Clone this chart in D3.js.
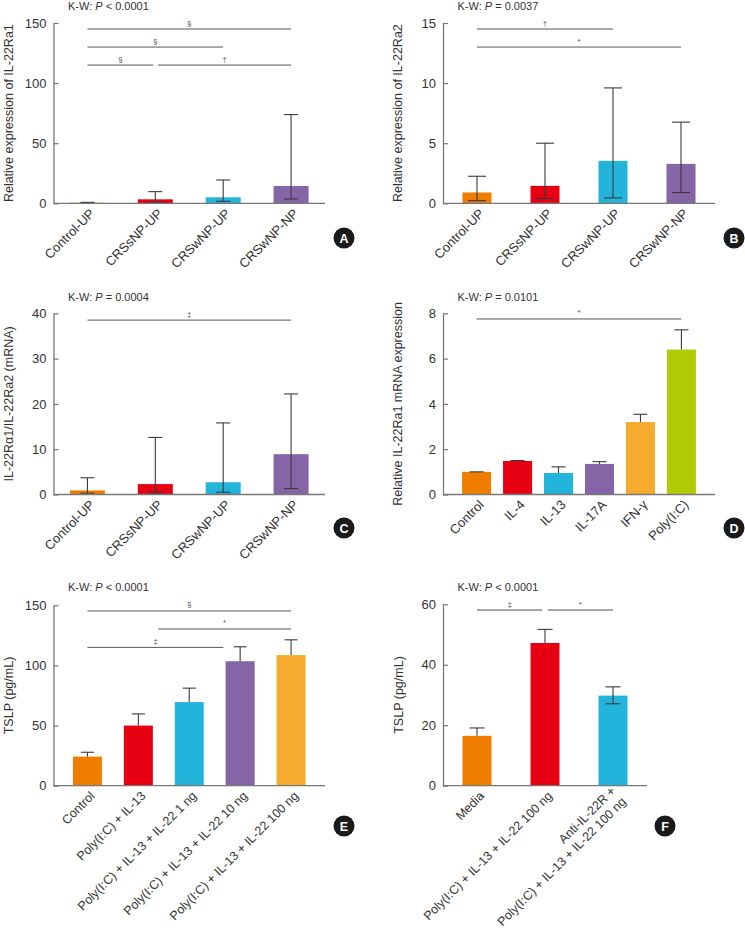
<!DOCTYPE html>
<html>
<head>
<meta charset="utf-8">
<script src="https://cdn.jsdelivr.net/npm/d3@7"></script>
<style>
body { margin: 0; background: #fff; }
svg { display: block; }
text { font-family: "Liberation Sans", Arial, sans-serif; }
</style>
</head>
<body>
<svg id="chart" width="745" height="933"></svg>
<script>
// ---- data ----
var colors = ["#EF7D00", "#E60012", "#22B4DB", "#8565A5", "#F7AB2E", "#AFCB06"];

var catsA = ["Control-UP", "CRSsNP-UP", "CRSwNP-UP", "CRSwNP-NP"];
var meanA = [0.5, 3.3, 5, 14.4];
var lowA = [0.2, 1, 1.7, 3.6];
var highA = [0.8, 9.7, 19.4, 73.8];
var ticksA = [0, 50, 100, 150];
var bracketsA = [[0, 3, 145, "§"], [0, 2, 130, "§"], [0, 0.97, 115, "§"], [1.04, 3, 115, "†"]];

var catsB = ["Control-UP", "CRSsNP-UP", "CRSwNP-UP", "CRSwNP-NP"];
var meanB = [0.9, 1.45, 3.53, 3.28];
var lowB = [0.22, 0.4, 0.45, 0.9];
var highB = [2.25, 5.0, 9.6, 6.75];
var ticksB = [0, 5, 10, 15];
var bracketsB = [[0, 2, 14.5, "†"], [0, 3, 13, "*"]];

var catsC = ["Control-UP", "CRSsNP-UP", "CRSwNP-UP", "CRSwNP-NP"];
var meanC = [0.9, 2.3, 2.7, 8.9];
var lowC = [0.3, 0.5, 0.5, 1.3];
var highC = [3.7, 12.6, 15.8, 22.2];
var ticksC = [0, 10, 20, 30, 40];
var bracketsC = [[0, 3, 38.5, "‡"]];

var catsD = ["Control", "IL-4", "IL-13", "IL-17A", "IFN-γ", "Poly(I:C)"];
var meanD = [1.0, 1.48, 0.95, 1.35, 3.2, 6.4];
var lowD = [1.0, 1.48, 0.95, 1.35, 3.2, 6.4];
var highD = [1.0, 1.5, 1.22, 1.45, 3.54, 7.27];
var ticksD = [0, 2, 4, 6, 8];
var bracketsD = [[0, 5, 7.75, "*"]];

var catsE = ["Control", "Poly(I:C) + IL-13", "Poly(I:C) + IL-13 + IL-22 1 ng",
  "Poly(I:C) + IL-13 + IL-22 10 ng", "Poly(I:C) + IL-13 + IL-22 100 ng"];
var meanE = [24.2, 50, 69.5, 103.5, 108.6];
var lowE = [24.2, 50, 69.5, 103.5, 108.6];
var highE = [27.8, 59.7, 81.1, 115.5, 121.3];
var ticksE = [0, 50, 100, 150];
var bracketsE = [[0, 4, 145.3, "§"], [1.39, 4, 130.3, "*"], [0, 2.67, 115, "‡"]];

var catsF = ["Media", "Poly(I:C) + IL-13 + IL-22 100 ng",
  ["Anti-IL-22R +", "Poly(I:C) + IL-13 + IL-22 100 ng"]];
var meanF = [16.5, 47.2, 29.8];
var lowF = [16.5, 47.2, 27.1];
var highF = [19.1, 51.7, 32.7];
var ticksF = [0, 20, 40, 60];
var bracketsF = [[0, 0.96, 58.1, "‡"], [1.04, 2, 58.1, "*"]];

// ---- layout ----
var svg = d3.select("#chart");

var panels = [
  {tag: "A", cats: catsA, mean: meanA, low: lowA, high: highA, ticks: ticksA, brackets: bracketsA,
   kw: "< 0.0001", ylab: "Relative expression of IL-22Ra1",
   x0: 53.5, x1: 325, y0: 203.3, y1: 23, pad: 0.5, barW: 35, capW: 14, kwY: 10, ylx: 13, circ: [344, 238], fs: 13},
  {tag: "B", cats: catsB, mean: meanB, low: lowB, high: highB, ticks: ticksB, brackets: bracketsB,
   kw: "= 0.0037", ylab: "Relative expression of IL-22Ra2",
   x0: 443, x1: 715, y0: 203.3, y1: 23, pad: 0.5, barW: 29, capW: 18, kwY: 10, ylx: 402, circ: [734, 238], fs: 13},
  {tag: "C", cats: catsC, mean: meanC, low: lowC, high: highC, ticks: ticksC, brackets: bracketsC,
   kw: "= 0.0004", ylab: "IL-22Rα1/IL-22Ra2 (mRNA)",
   x0: 53.5, x1: 325, y0: 494.5, y1: 313.3, pad: 0.5, barW: 35, capW: 14, kwY: 301, ylx: 13, circ: [344, 528], fs: 13},
  {tag: "D", cats: catsD, mean: meanD, low: lowD, high: highD, ticks: ticksD, brackets: bracketsD,
   kw: "= 0.0101", ylab: "Relative IL-22Ra1 mRNA expression",
   x0: 443, x1: 715, y0: 494.5, y1: 313.3, pad: 0.82, barW: 29, capW: 14, kwY: 301, ylx: 402, circ: [734, 528], fs: 13},
  {tag: "E", cats: catsE, mean: meanE, low: lowE, high: highE, ticks: ticksE, brackets: bracketsE,
   kw: "< 0.0001", ylab: "TSLP (pg/mL)",
   x0: 53.5, x1: 325, y0: 785.7, y1: 605.3, pad: 0.667, barW: 29, capW: 13, kwY: 591, ylx: 13, circ: [344, 826], fs: 12.5},
  {tag: "F", cats: catsF, mean: meanF, low: lowF, high: highF, ticks: ticksF, brackets: bracketsF,
   kw: "< 0.0001", ylab: "TSLP (pg/mL)",
   x0: 443, x1: 647, y0: 785.7, y1: 604.3, pad: 0.5, barW: 29, capW: 15, kwY: 591, ylx: 403, circ: [665, 826], fs: 12.5}
];

panels.forEach(drawPanel);

function drawPanel(p) {
  var g = svg.append("g");
  var n = p.cats.length;
  var x = d3.scalePoint().domain(d3.range(n)).range([p.x0, p.x1]).padding(p.pad);
  var y = d3.scaleLinear().domain([0, d3.max(p.ticks)]).range([p.y0, p.y1]);
  var xi = function (i) { return x(0) + i * x.step(); };
  var idx = d3.range(n);

  // bars
  g.selectAll("rect.bar").data(idx).join("rect")
    .attr("class", "bar")
    .attr("x", function (i) { return x(i) - p.barW / 2; })
    .attr("y", function (i) { return y(p.mean[i]); })
    .attr("width", p.barW)
    .attr("height", function (i) { return p.y0 - y(p.mean[i]); })
    .attr("fill", function (i) { return colors[i]; });

  // error bars
  var eb = g.selectAll("g.err").data(idx).join("g").attr("class", "err")
    .attr("stroke", "#3a3a3a").attr("stroke-width", 1.1);
  eb.append("line")
    .attr("x1", function (i) { return x(i); })
    .attr("x2", function (i) { return x(i); })
    .attr("y1", function (i) { return y(p.low[i]); })
    .attr("y2", function (i) { return y(p.high[i]); });
  eb.append("line")
    .attr("x1", function (i) { return x(i) - p.capW / 2; })
    .attr("x2", function (i) { return x(i) + p.capW / 2; })
    .attr("y1", function (i) { return y(p.high[i]); })
    .attr("y2", function (i) { return y(p.high[i]); });
  eb.filter(function (i) { return p.low[i] < p.mean[i]; }).append("line")
    .attr("x1", function (i) { return x(i) - p.capW / 2; })
    .attr("x2", function (i) { return x(i) + p.capW / 2; })
    .attr("y1", function (i) { return y(p.low[i]); })
    .attr("y2", function (i) { return y(p.low[i]); });

  // y axis
  var ax = g.append("g").attr("transform", "translate(" + p.x0 + ",0)")
    .call(d3.axisLeft(y).tickValues(p.ticks).tickSize(-5).tickSizeOuter(0).tickPadding(7));
  ax.select(".domain").attr("stroke", "#777").attr("stroke-width", 1.3);
  ax.selectAll(".tick line").attr("stroke", "#777").attr("stroke-width", 1.2);
  ax.selectAll(".tick text").style("font-size", "13px").style("fill", "#333")
    .style("font-family", "'Liberation Sans', Arial, sans-serif");

  // x axis line
  g.append("line").attr("x1", p.x0).attr("x2", p.x1).attr("y1", p.y0).attr("y2", p.y0)
    .attr("stroke", "#777").attr("stroke-width", 1.3);

  // x labels
  g.selectAll("text.xl").data(p.cats).join("text")
    .attr("class", "xl")
    .attr("text-anchor", "end")
    .attr("transform", function (d, i) { return "translate(" + (x(i) + 8) + "," + (p.y0 + 11) + ") rotate(-45)"; })
    .style("font-size", p.fs + "px").style("fill", "#333")
    .each(function (d) {
      var t = d3.select(this);
      if (Array.isArray(d)) {
        d.forEach(function (s, k) {
          t.append("tspan").attr("x", 0).attr("dy", k === 0 ? "-0.55em" : "1.2em").text(s);
        });
      } else {
        t.text(d);
      }
    });

  // significance brackets
  p.brackets.forEach(function (b) {
    g.append("line").attr("x1", xi(b[0])).attr("x2", xi(b[1]))
      .attr("y1", y(b[2])).attr("y2", y(b[2]))
      .attr("stroke", "#555").attr("stroke-width", 1);
    g.append("text").attr("x", (xi(b[0]) + xi(b[1])) / 2).attr("y", y(b[2]) - 3.5)
      .attr("text-anchor", "middle").style("font-size", "8px").style("fill", "#555").text(b[3]);
  });

  // Kruskal-Wallis
  var kw = g.append("text").attr("x", p.x0 + 14.5).attr("y", p.kwY)
    .style("font-size", "11px").style("fill", "#333");
  kw.append("tspan").text("K-W: ");
  kw.append("tspan").style("font-style", "italic").text("P");
  kw.append("tspan").text(" " + p.kw);

  // y label
  g.append("text")
    .attr("transform", "translate(" + p.ylx + "," + ((p.y0 + p.y1) / 2) + ") rotate(-90)")
    .attr("text-anchor", "middle").style("font-size", "12.5px").style("fill", "#333").text(p.ylab);

  // panel letter
  g.append("circle").attr("cx", p.circ[0]).attr("cy", p.circ[1]).attr("r", 10.5).attr("fill", "#1a1a1a");
  g.append("text").attr("x", p.circ[0]).attr("y", p.circ[1] + 4.5)
    .attr("text-anchor", "middle").style("font-size", "12.5px").style("font-weight", "bold")
    .style("fill", "#fff").text(p.tag);
}
</script>
</body>
</html>
